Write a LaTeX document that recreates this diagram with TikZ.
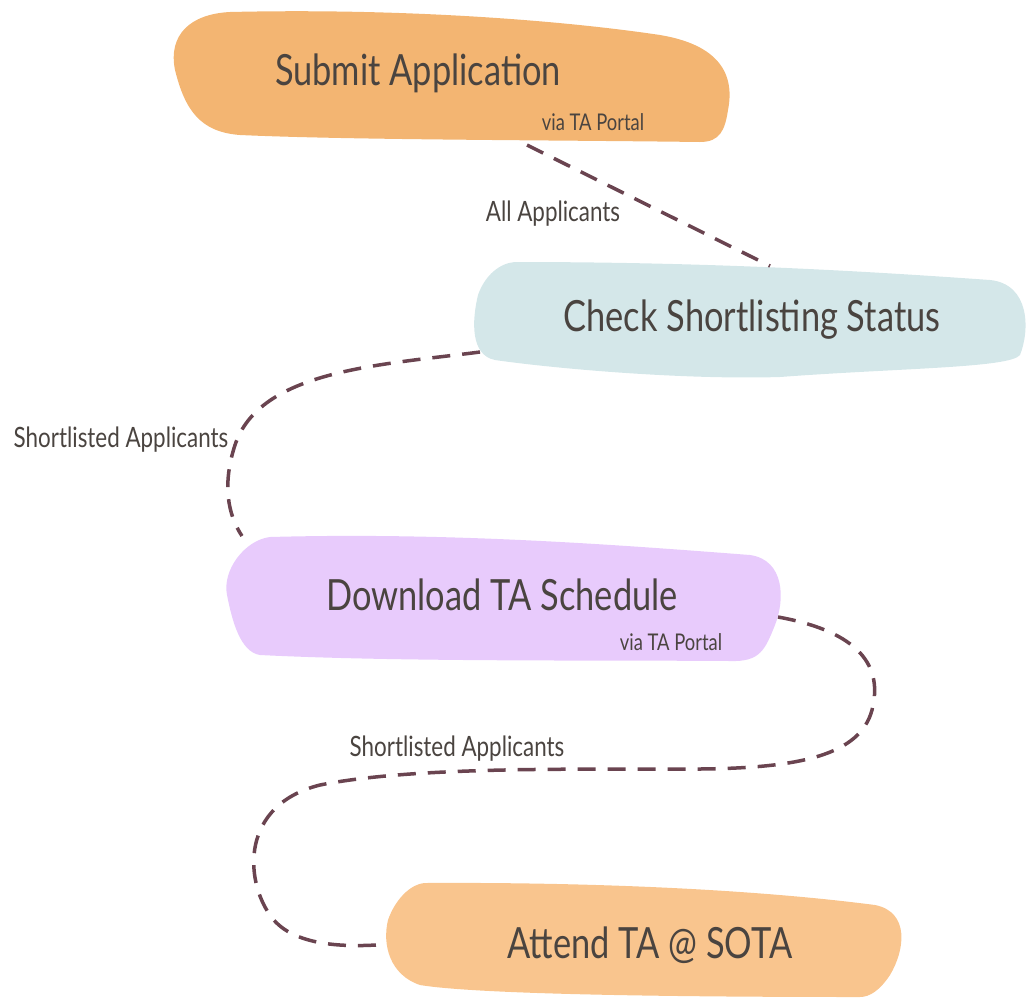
\documentclass[tikz,border=0pt]{standalone}
\usepackage{fontspec}
\newfontfamily\hand[FakeStretch=0.8]{Lato}
\definecolor{blobA}{HTML}{F3B572}
\definecolor{blobB}{HTML}{D4E7E9}
\definecolor{blobC}{HTML}{E8CBFC}
\definecolor{blobD}{HTML}{F9C58E}
\definecolor{ink}{HTML}{4A4440}
\definecolor{linkc}{HTML}{6A4450}
\tikzset{
  maintext/.style={text=ink, font=\hand\fontsize{43}{48}\selectfont, inner sep=0pt},
  subtext/.style={text=ink, font=\hand\fontsize{23}{26}\selectfont, inner sep=0pt},
  edgetext/.style={text=ink, font=\hand\fontsize{28}{30}\selectfont, inner sep=0pt},
  link/.style={draw=linkc, line width=3.5pt, dash pattern=on 18pt off 12pt, line cap=butt},
}
\begin{document}
\begin{tikzpicture}[x=1pt,y=-1pt]
\useasboundingbox (0,0) rectangle (1026,997);
% blobs
\fill[blobA] (230,12) .. controls (400,8) and (560,20) .. (660,35) .. controls (720,45) and (735,75) .. (728,110) .. controls (725,130) and (720,142) .. (700,142) .. controls (550,140) and (350,140) .. (240,135) .. controls (200,132) and (185,110) .. (175,70) .. controls (168,35) and (190,14) .. (230,12) -- cycle;
\fill[blobB] (515,262) .. controls (700,262) and (850,270) .. (990,280) .. controls (1030,284) and (1030,330) .. (1020,355) .. controls (1010,368) and (900,368) .. (780,377) .. controls (680,380) and (550,368) .. (495,360) .. controls (470,355) and (472,320) .. (478,295) .. controls (485,275) and (500,263) .. (515,262) -- cycle;
\fill[blobC] (270,537) .. controls (450,532) and (620,545) .. (750,555) .. controls (785,560) and (785,600) .. (775,625) .. controls (765,650) and (760,662) .. (730,661) .. controls (600,660) and (400,662) .. (260,655) .. controls (240,652) and (232,620) .. (227,595) .. controls (222,570) and (245,540) .. (270,537) -- cycle;
\fill[blobD] (425,883) .. controls (600,882) and (760,890) .. (875,905) .. controls (910,912) and (905,950) .. (890,975) .. controls (880,990) and (870,997) .. (860,997) .. controls (700,997) and (480,995) .. (420,985) .. controls (390,975) and (382,945) .. (388,920) .. controls (395,900) and (410,884) .. (425,883) -- cycle;
% texts
\node[maintext] (submit) at (418,73) {Submit Application};
\node[subtext] (via1) at (593,122) {via TA Portal};
\node[maintext] (check) at (752,320) {Check Shortlisting Status};
\node[maintext] (download) at (502,595) {Download TA Schedule};
\node[subtext] (via2) at (671,642) {via TA Portal};
\node[maintext] (attend) at (650,945) {Attend TA @ SOTA};
% connector end points
\coordinate (s1) at (527,145);
\coordinate (e1) at (770,266);
\coordinate (s2) at (480,352);
\coordinate (e2) at (242,536);
\coordinate (s3) at (778,617);
\coordinate (e3) at (376,945);
% connectors
\draw[link] (s1) -- (e1);
\draw[link] (s2) .. controls (380,365) and (260,370) .. (235,445) .. controls (222,485) and (228,515) .. (e2);
\draw[link] (s3) .. controls (850,630) and (885,660) .. (872,710) .. controls (860,755) and (800,768) .. (700,769) .. controls (600,770) and (420,765) .. (320,785) .. controls (240,805) and (245,880) .. (270,915) .. controls (290,945) and (340,947) .. (e3);
% edge labels
\node[edgetext] (lab1) at (553,214) {All Applicants};
\node[edgetext] (lab2) at (121,440) {Shortlisted Applicants};
\node[edgetext] (lab3) at (457,749) {Shortlisted Applicants};
\end{tikzpicture}
\end{document}
